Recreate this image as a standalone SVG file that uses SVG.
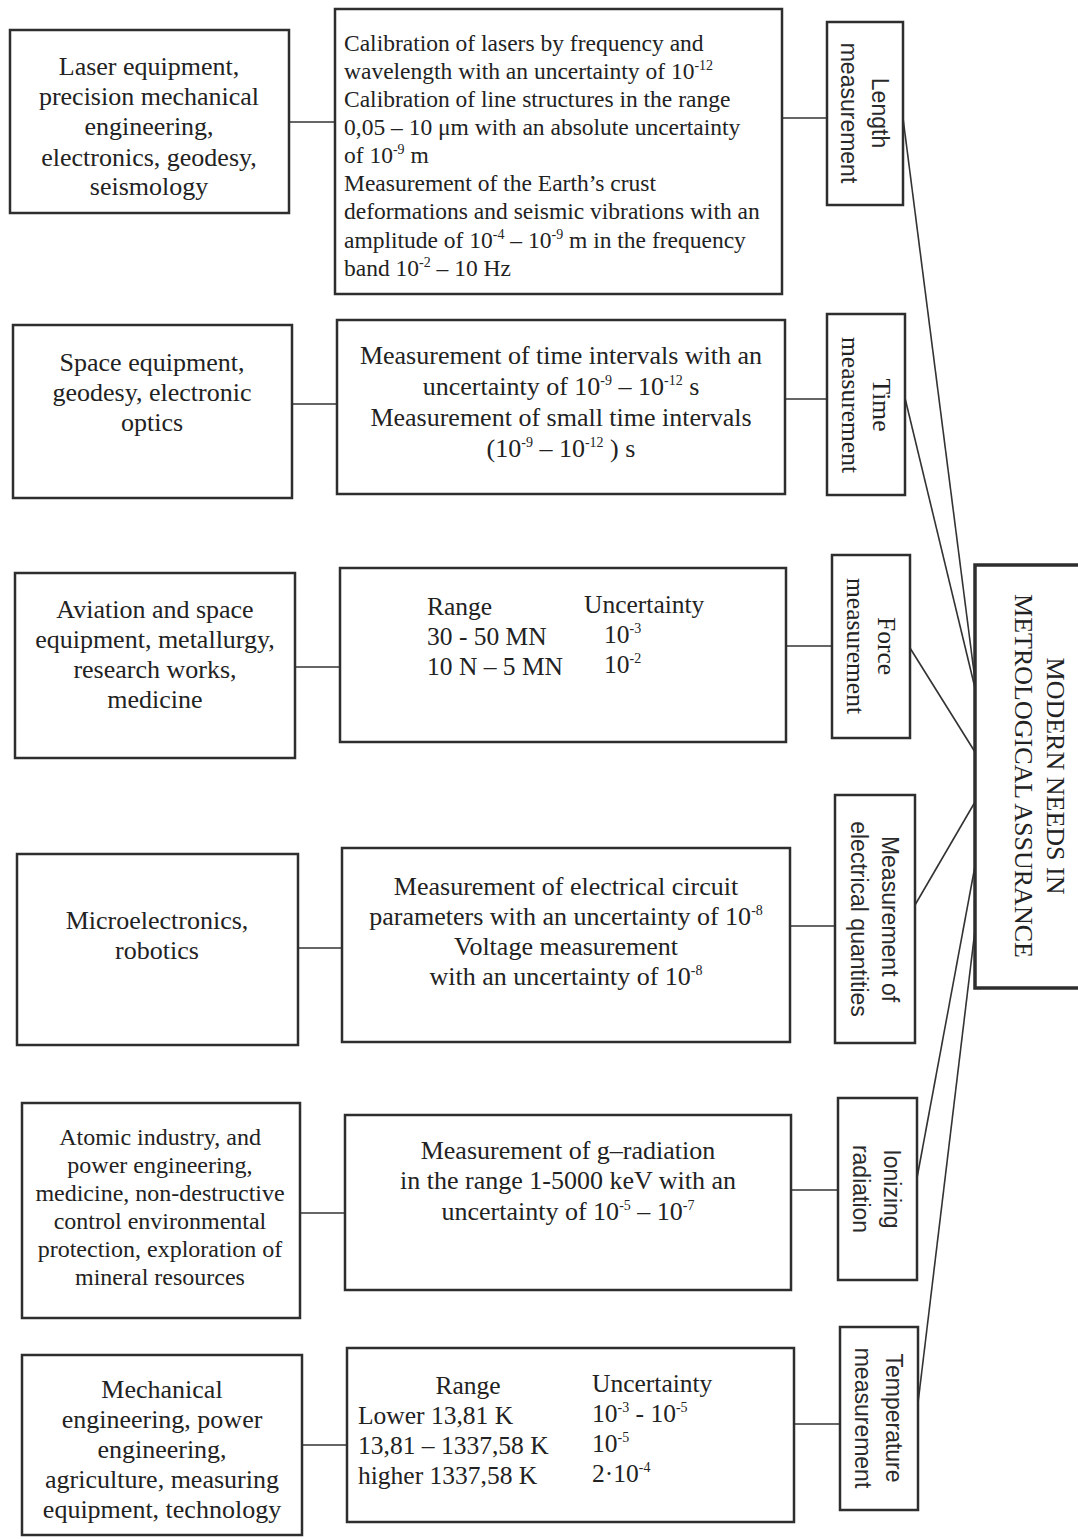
<svg xmlns="http://www.w3.org/2000/svg" width="1078" height="1539" viewBox="0 0 1078 1539">
<style>
.box{fill:#fff;stroke:#2e2e2e;stroke-width:2.5}
.main{fill:#fff;stroke:#2e2e2e;stroke-width:3.5}
.ln{fill:none;stroke:#333;stroke-width:1.6}
.s{font-family:"Liberation Serif","Times New Roman",serif;fill:#222}
.sa{font-family:"Liberation Sans",Arial,sans-serif;fill:#2a2a2a}
.f26{font-size:26px}
.f24{font-size:24px}
.f23{font-size:23.5px}
.f25{font-size:25.5px}
.fr{font-size:23px}
.c{text-anchor:middle}
.sup{font-size:14px}
</style>
<rect width="1078" height="1539" fill="#fff"/>
<g id="connectors">
<line class="ln" x1="289" y1="122" x2="335" y2="122"/>
<line class="ln" x1="782" y1="118" x2="827" y2="118"/>
<line class="ln" x1="292" y1="404" x2="337" y2="404"/>
<line class="ln" x1="785" y1="399" x2="827" y2="399"/>
<line class="ln" x1="295" y1="667" x2="340" y2="667"/>
<line class="ln" x1="786" y1="646" x2="832" y2="646"/>
<line class="ln" x1="298" y1="948" x2="342" y2="948"/>
<line class="ln" x1="790" y1="926" x2="835" y2="926"/>
<line class="ln" x1="300" y1="1213" x2="345" y2="1213"/>
<line class="ln" x1="791" y1="1190" x2="838" y2="1190"/>
<line class="ln" x1="302" y1="1445" x2="347" y2="1445"/>
<line class="ln" x1="794" y1="1424" x2="840" y2="1424"/>
<line class="ln" x1="903" y1="118" x2="975" y2="680"/>
<line class="ln" x1="905" y1="398" x2="975" y2="688"/>
<line class="ln" x1="910" y1="648" x2="975" y2="752"/>
<line class="ln" x1="915" y1="905" x2="975" y2="802"/>
<line class="ln" x1="917" y1="1178" x2="975" y2="866"/>
<line class="ln" x1="918" y1="1403" x2="975" y2="930"/>
</g>
<g id="main">
<rect class="main" x="975" y="565" width="115" height="423"/>
<g transform="translate(1037,776) rotate(90)">
<text class="s f26 c" x="0" y="-10">MODERN NEEDS IN</text>
<text class="s f26 c" x="0" y="22">METROLOGICAL ASSURANCE</text>
</g>
</g>
<g id="l1">
<rect class="box" x="10" y="30" width="279" height="183"/>
<text class="s f26 c" x="149" y="75">Laser equipment,</text>
<text class="s f26 c" x="149" y="105">precision mechanical</text>
<text class="s f26 c" x="149" y="135">engineering,</text>
<text class="s f26 c" x="149" y="166">electronics, geodesy,</text>
<text class="s f26 c" x="149" y="195">seismology</text>
</g>
<g id="m1">
<rect class="box" x="335" y="9" width="447" height="285"/>
<text class="s f23" x="344" y="51">Calibration of lasers by frequency and</text>
<text class="s f23" x="344" y="79">wavelength with an uncertainty of 10<tspan class="sup" dy="-9">-12</tspan></text>
<text class="s f23" x="344" y="107">Calibration of line structures in the range</text>
<text class="s f23" x="344" y="135">0,05 – 10 μm with an absolute uncertainty</text>
<text class="s f23" x="344" y="163">of 10<tspan class="sup" dy="-9">-9</tspan><tspan dy="9"> m</tspan></text>
<text class="s f23" x="344" y="191">Measurement of the Earth’s crust</text>
<text class="s f23" x="344" y="219">deformations and seismic vibrations with an</text>
<text class="s f23" x="344" y="248">amplitude of 10<tspan class="sup" dy="-9">-4</tspan><tspan dy="9"> – 10</tspan><tspan class="sup" dy="-9">-9</tspan><tspan dy="9"> m in the frequency</tspan></text>
<text class="s f23" x="344" y="276">band 10<tspan class="sup" dy="-9">-2</tspan><tspan dy="9"> – 10 Hz</tspan></text>
</g>
<g id="r1">
<rect class="box" x="827" y="22" width="76" height="183"/>
<g transform="translate(865,113) rotate(90)">
<text class="sa fr c" x="0" y="-7">Length</text>
<text class="sa fr c" x="0" y="24">measurement</text>
</g>
</g>
<g id="l2">
<rect class="box" x="13" y="325" width="279" height="173"/>
<text class="s f26 c" x="152" y="371">Space equipment,</text>
<text class="s f26 c" x="152" y="401">geodesy, electronic</text>
<text class="s f26 c" x="152" y="431">optics</text>
</g>
<g id="m2">
<rect class="box" x="337" y="320" width="448" height="174"/>
<text class="s f26 c" x="561" y="364">Measurement of time intervals with an</text>
<text class="s f26 c" x="561" y="395">uncertainty of 10<tspan class="sup" dy="-10">-9</tspan><tspan dy="10"> – 10</tspan><tspan class="sup" dy="-10">-12</tspan><tspan dy="10"> s</tspan></text>
<text class="s f26 c" x="561" y="426">Measurement of small time intervals</text>
<text class="s f26 c" x="561" y="457">(10<tspan class="sup" dy="-10">-9</tspan><tspan dy="10"> – 10</tspan><tspan class="sup" dy="-10">-12</tspan><tspan dy="10"> ) s</tspan></text>
</g>
<g id="r2">
<rect class="box" x="827" y="314" width="78" height="181"/>
<g transform="translate(866,405) rotate(90)">
<text class="s f25 c" x="0" y="-7">Time</text>
<text class="s f25 c" x="0" y="24">measurement</text>
</g>
</g>
<g id="l3">
<rect class="box" x="15" y="573" width="280" height="185"/>
<text class="s f26 c" x="155" y="618">Aviation and space</text>
<text class="s f26 c" x="155" y="648">equipment, metallurgy,</text>
<text class="s f26 c" x="155" y="678">research works,</text>
<text class="s f26 c" x="155" y="708">medicine</text>
</g>
<g id="m3">
<rect class="box" x="340" y="568" width="446" height="174"/>
<text class="s f25" x="427" y="615">Range</text>
<text class="s f25" x="584" y="613">Uncertainty</text>
<text class="s f25" x="427" y="645">30 - 50 MN</text>
<text class="s f25" x="604" y="643">10<tspan class="sup" dy="-10">-3</tspan></text>
<text class="s f25" x="427" y="675">10 N – 5 MN</text>
<text class="s f25" x="604" y="673">10<tspan class="sup" dy="-10">-2</tspan></text>
</g>
<g id="r3">
<rect class="box" x="832" y="555" width="78" height="183"/>
<g transform="translate(871,646) rotate(90)">
<text class="s f25 c" x="0" y="-7">Force</text>
<text class="s f25 c" x="0" y="24">measurement</text>
</g>
</g>
<g id="l4">
<rect class="box" x="17" y="854" width="281" height="191"/>
<text class="s f26 c" x="157" y="929">Microelectronics,</text>
<text class="s f26 c" x="157" y="959">robotics</text>
</g>
<g id="m4">
<rect class="box" x="342" y="848" width="448" height="194"/>
<text class="s f26 c" x="566" y="895">Measurement of electrical circuit</text>
<text class="s f26 c" x="566" y="925">parameters with an uncertainty of 10<tspan class="sup" dy="-10">-8</tspan></text>
<text class="s f26 c" x="566" y="955">Voltage measurement</text>
<text class="s f26 c" x="566" y="985">with an uncertainty of 10<tspan class="sup" dy="-10">-8</tspan></text>
</g>
<g id="r4">
<rect class="box" x="835" y="795" width="80" height="248"/>
<g transform="translate(875,919) rotate(90)">
<text class="sa fr c" x="0" y="-7">Measurement of</text>
<text class="sa fr c" x="0" y="24">electrical quantities</text>
</g>
</g>
<g id="l5">
<rect class="box" x="22" y="1103" width="278" height="215"/>
<text class="s f24 c" x="160" y="1145">Atomic industry, and</text>
<text class="s f24 c" x="160" y="1173">power engineering,</text>
<text class="s f24 c" x="160" y="1201">medicine, non-destructive</text>
<text class="s f24 c" x="160" y="1229">control environmental</text>
<text class="s f24 c" x="160" y="1257">protection, exploration of</text>
<text class="s f24 c" x="160" y="1285">mineral resources</text>
</g>
<g id="m5">
<rect class="box" x="345" y="1115" width="446" height="175"/>
<text class="s f26 c" x="568" y="1159">Measurement of g–radiation</text>
<text class="s f26 c" x="568" y="1189">in the range 1-5000 keV with an</text>
<text class="s f26 c" x="568" y="1220">uncertainty of  10<tspan class="sup" dy="-10">-5</tspan><tspan dy="10"> – 10</tspan><tspan class="sup" dy="-10">-7</tspan></text>
</g>
<g id="r5">
<rect class="box" x="838" y="1098" width="79" height="182"/>
<g transform="translate(877,1189) rotate(90)">
<text class="sa fr c" x="0" y="-7">Ionizing</text>
<text class="sa fr c" x="0" y="24">radiation</text>
</g>
</g>
<g id="l6">
<rect class="box" x="22" y="1355" width="280" height="180"/>
<text class="s f26 c" x="162" y="1398">Mechanical</text>
<text class="s f26 c" x="162" y="1428">engineering, power</text>
<text class="s f26 c" x="162" y="1458">engineering,</text>
<text class="s f26 c" x="162" y="1488">agriculture,  measuring</text>
<text class="s f26 c" x="162" y="1518">equipment, technology</text>
</g>
<g id="m6">
<rect class="box" x="347" y="1348" width="447" height="174"/>
<text class="s f25 c" x="468" y="1394">Range</text>
<text class="s f25" x="592" y="1392">Uncertainty</text>
<text class="s f25" x="358" y="1424">Lower 13,81 K</text>
<text class="s f25" x="592" y="1422">10<tspan class="sup" dy="-10">-3</tspan><tspan dy="10"> - 10</tspan><tspan class="sup" dy="-10">-5</tspan></text>
<text class="s f25" x="358" y="1454">13,81 – 1337,58 K</text>
<text class="s f25" x="592" y="1452">10<tspan class="sup" dy="-10">-5</tspan></text>
<text class="s f25" x="358" y="1484">higher 1337,58 K</text>
<text class="s f25" x="592" y="1482">2·10<tspan class="sup" dy="-10">-4</tspan></text>
</g>
<g id="r6">
<rect class="box" x="840" y="1327" width="78" height="183"/>
<g transform="translate(879,1418) rotate(90)">
<text class="sa fr c" x="0" y="-7">Temperature</text>
<text class="sa fr c" x="0" y="24">measurement</text>
</g>
</g>
</svg>
